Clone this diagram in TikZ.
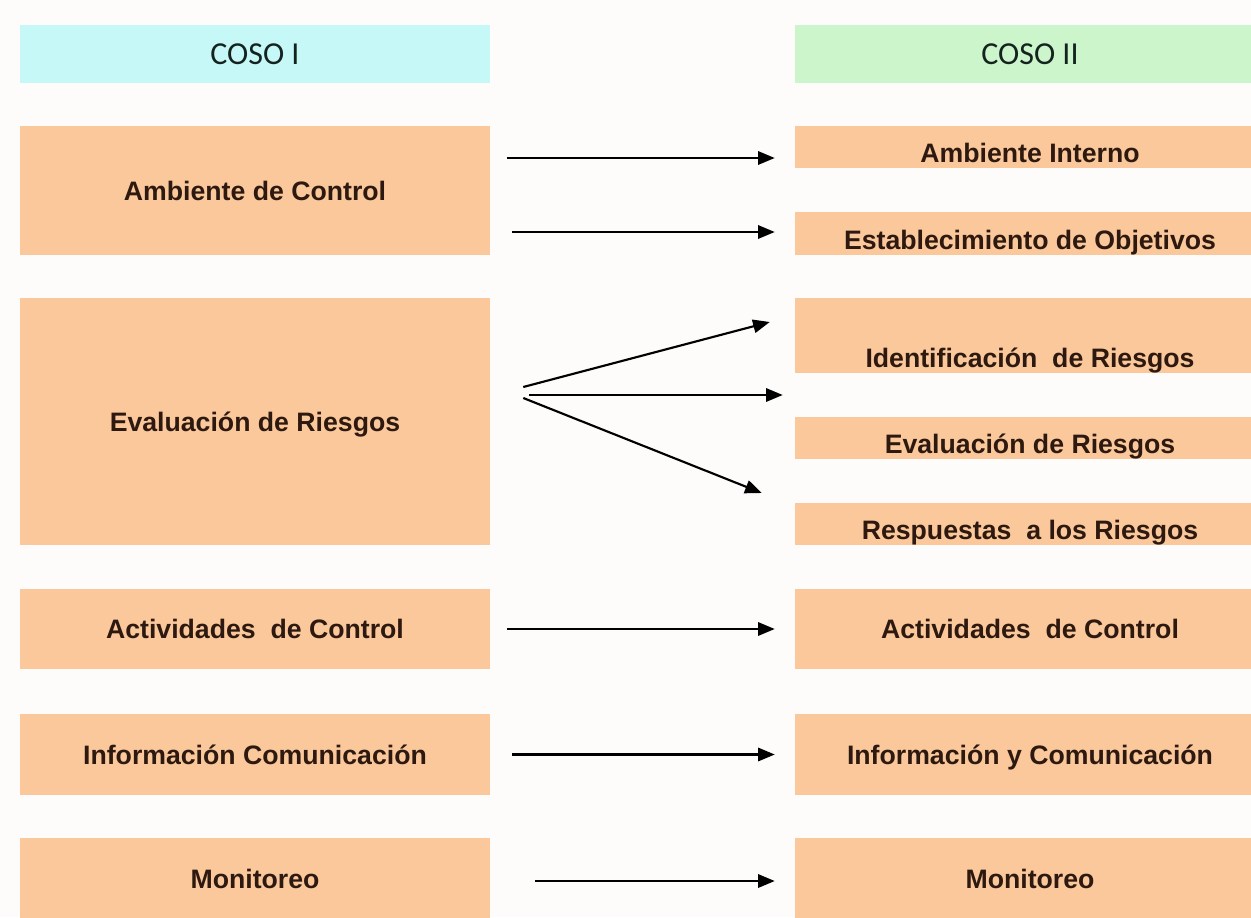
\documentclass[tikz,border=0pt]{standalone}
\usepackage{fontspec}
\setmainfont{Liberation Sans}
\newfontfamily\hdrfont{Carlito}
\usetikzlibrary{arrows.meta}
\definecolor{peach}{RGB}{250,200,155}
\definecolor{hcyan}{RGB}{198,248,248}
\definecolor{hgreen}{RGB}{204,245,204}
\definecolor{bgc}{RGB}{253,252,251}
\definecolor{txt}{RGB}{45,25,15}
\definecolor{htxt}{RGB}{20,35,30}
\begin{document}
\begin{tikzpicture}[x=0.75pt,y=-0.75pt,
  box/.style={fill=peach, draw=none, inner sep=0pt, minimum width=352.5pt,
    font=\bfseries\fontsize{20}{24}\selectfont, text=txt, text height=14.3pt, text depth=0pt},
  thin/.style={box, text height=23.3pt},
  hdr/.style={draw=none, inner sep=0pt, minimum width=352.5pt, minimum height=43.5pt,
    font=\hdrfont\fontsize{24}{28}\selectfont, text=htxt, text height=15.5pt, text depth=0pt},
  arr/.style={draw=black, line width=1.6pt, -{Triangle[length=12.5pt,width=10pt]}}]
\useasboundingbox (0,0) rectangle (1251,917);
\fill[bgc] (0,0) rectangle (1251,917);
% headers
\node[hdr, fill=hcyan] (H1) at (255,54) {COSO I};
\node[hdr, fill=hgreen] (H2) at (1030,54) {COSO II};
% left column
\node[box, minimum height=96.75pt] (L1) at (255,190.5) {Ambiente de Control};
\node[box, minimum height=185.25pt] (L2) at (255,421.5) {Evaluación de Riesgos};
\node[box, minimum height=60pt] (L3) at (255,629) {Actividades\ \ de Control};
\node[box, minimum height=60.75pt] (L4) at (255,754.5) {Información Comunicación};
\node[box, minimum height=60.75pt] (L5) at (255,878.5) {Monitoreo};
% right column
\node[thin, minimum height=31.5pt] (R1) at (1030,147) {Ambiente Interno};
\node[thin, minimum height=32.25pt] (R2) at (1030,233.5) {Establecimiento de Objetivos};
\node[box, minimum height=56.25pt, text height=48.1pt] (R3) at (1030,335.5) {Identificación\ \ de Riesgos};
\node[thin, minimum height=31.5pt] (R4) at (1030,438) {Evaluación de Riesgos};
\node[thin, minimum height=31.5pt] (R5) at (1030,524) {Respuestas\ \ a los Riesgos};
\node[box, minimum height=60pt] (R6) at (1030,629) {Actividades\ \ de Control};
\node[box, minimum height=60.75pt] (R7) at (1030,754.5) {Información y Comunicación};
\node[box, minimum height=60.75pt] (R8) at (1030,878.5) {Monitoreo};
% arrows
\draw[arr] ([shift={(17,-32.5)}]L1.east) -- ([shift={(-20,11)}]R1.west);
\draw[arr] ([shift={(22,41.5)}]L1.east) -- ([shift={(-20,-1.5)}]R2.west);
\draw[arr] ([shift={(33,-34.5)}]L2.east) -- ([shift={(-25,-13.5)}]R3.west);
\draw[arr] ([shift={(39,-26.5)}]L2.east) -- ([shift={(-12,59.5)}]R3.west);
\draw[arr] ([shift={(33,-23.5)}]L2.east) -- ([shift={(-33,-31)}]R5.west);
\draw[arr] ([shift={(17,0)}]L3.east) -- ([shift={(-20,0)}]R6.west);
\draw[arr] ([shift={(22,0)}]L4.east) -- ([shift={(-20,0)}]R7.west);
\draw[arr] ([shift={(45,2.5)}]L5.east) -- ([shift={(-20,2.5)}]R8.west);
\end{tikzpicture}
\end{document}
